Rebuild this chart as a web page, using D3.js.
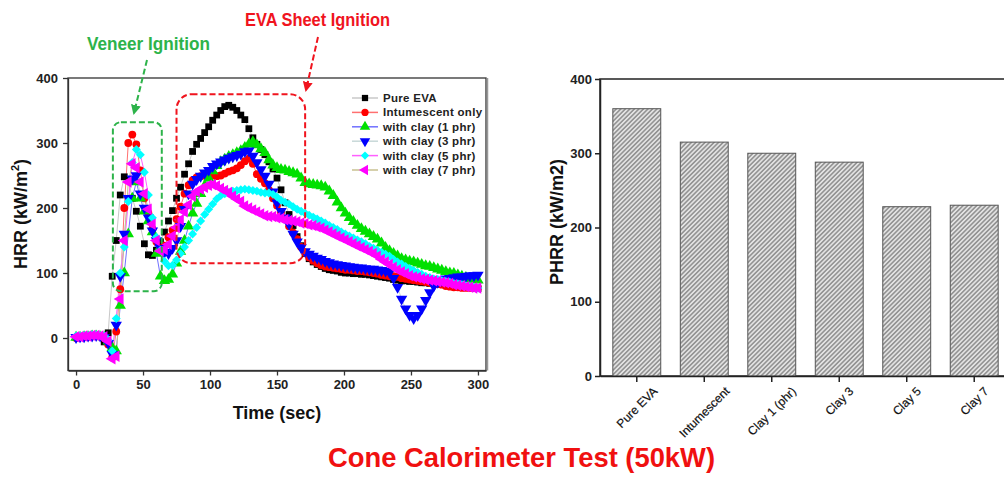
<!DOCTYPE html>
<html>
<head>
<meta charset="utf-8">
<script src="https://cdn.jsdelivr.net/npm/d3@7"></script>
<style>
  body { margin: 0; background: #fff; }
  svg { display: block; }
  text { font-family: "Liberation Sans", Arial, sans-serif; }
</style>
</head>
<body>
<div id="output"></div>
<script>
// sample times (sec), one reading every 3 s
var times = d3.range(0, 301, 3);

// HRR readings (kW/m2)
var pureEVA = [
  1,2,2,3,4,3,2,-6,8,95,
  150,220,248,243,215,195,172,145,128,127,
  135,148,163,180,196,215,232,252,268,287,
  298,307,316,325,335,343,350,356,358,355,
  350,343,336,322,308,298,290,282,271,260,
  246,228,208,190,173,156,142,130,122,117,
  113,110,107,105,104,103,101,100,100,99,
  99,98,98,97,96,95,94,93,92,90,
  89,88,88,87,87,86,85,85,84,84,
  83,83,82,82,81,80,80,79,78,77,
  76];
var intumescent = [
  0,1,2,2,3,4,3,0,-10,-30,
  10,75,200,300,313,298,258,215,192,168,
  148,138,142,155,166,183,202,222,235,243,
  247,249,250,251,250,249,250,253,256,258,
  261,266,272,276,268,252,245,238,228,215,
  204,193,183,172,162,152,140,131,124,119,
  115,112,110,109,108,107,106,105,105,104,
  103,103,102,101,100,99,97,96,95,95,
  94,92,91,90,89,88,87,86,85,84,
  83,82,80,79,78,78,77,77,77,77,
  77];
var clay1 = [
  1,1,2,2,3,3,2,1,-5,-15,
  -20,50,100,160,215,240,215,195,180,163,
  130,95,88,90,98,115,133,150,172,192,
  207,222,234,246,257,265,271,275,279,282,
  285,288,293,298,302,297,291,285,274,266,
  262,259,258,256,254,252,246,239,237,236,
  235,234,232,226,219,209,200,192,185,179,
  173,168,164,160,156,152,146,139,134,130,
  126,122,120,118,117,115,113,111,110,108,
  106,104,102,100,99,97,95,93,91,90,
  89];
var clay3 = [
  1,2,2,3,3,4,3,1,-8,-25,
  20,95,160,215,245,250,222,200,185,165,
  150,138,132,130,138,150,172,198,222,237,
  244,249,254,258,264,268,271,274,277,279,
  281,283,287,288,280,270,259,249,237,225,
  208,195,185,175,160,148,139,133,129,126,
  123,121,118,116,114,113,112,111,110,109,
  108,108,107,106,106,105,104,103,101,92,
  78,60,45,35,30,35,45,58,70,80,
  86,89,91,92,93,94,94,95,96,96,
  97];
var clay5 = [
  3,3,4,4,5,5,4,3,-3,-20,
  30,100,140,210,270,290,282,255,220,185,
  155,135,118,111,112,120,130,140,150,160,
  170,180,190,198,206,214,219,222,224,226,
  227,228,229,228,227,226,224,223,223,221,
  217,212,209,206,202,198,195,192,189,186,
  183,180,177,173,170,167,163,160,157,154,
  151,148,145,141,138,135,132,129,126,121,
  117,114,110,107,104,101,98,95,93,91,
  90,88,87,86,84,83,82,80,79,78,
  77];
var clay7 = [
  2,2,3,3,4,4,3,2,-5,-32,
  -28,60,150,240,268,262,240,222,198,175,
  150,134,136,144,157,170,182,194,205,218,
  225,229,232,235,236,234,230,227,224,218,
  214,210,203,200,197,194,191,188,187,187,
  185,184,182,181,180,179,177,176,174,173,
  171,169,166,163,160,157,154,151,148,145,
  142,139,136,133,130,126,121,117,113,109,
  105,102,99,96,94,93,91,90,89,88,
  87,86,85,84,82,81,80,79,78,77,
  77];

var seriesNames = ['Pure EVA', 'Intumescent only', 'with clay (1 phr)', 'with clay (3 phr)', 'with clay (5 phr)', 'with clay (7 phr)'];
var seriesValues = [pureEVA, intumescent, clay1, clay3, clay5, clay7];
var hrrTicks = [0, 50, 100, 150, 200, 250, 300];
var hrrYTicks = [0, 100, 200, 300, 400];

// peak HRR bar chart
var barCats = ['Pure EVA', 'Intumescent', 'Clay 1 (phr)', 'Clay 3', 'Clay 5', 'Clay 7'];
var barValues = [360, 315, 300, 288, 228, 230];
var phrrTicks = [0, 100, 200, 300, 400];

var width = 1004;
var height = 478;
var font = '"Liberation Sans", Arial, sans-serif';

var svg = d3.select('#output')
  .append('svg')
  .attr('width', width)
  .attr('height', height);

var defs = svg.append('defs');

// hatch fill for the bars
var pat = defs.append('pattern')
  .attr('id', 'hatch')
  .attr('patternUnits', 'userSpaceOnUse')
  .attr('width', 3.2)
  .attr('height', 3.2)
  .attr('patternTransform', 'rotate(45)');
pat.append('rect').attr('width', 3.2).attr('height', 3.2).attr('fill', '#e2e2e2');
pat.append('line').attr('x1', 0.8).attr('y1', 0).attr('x2', 0.8).attr('y2', 3.2)
  .attr('stroke', '#707070').attr('stroke-width', 1.1);

function arrowHead(id, color){
  defs.append('marker')
    .attr('id', id)
    .attr('viewBox', '0 0 10 10')
    .attr('refX', 8).attr('refY', 5)
    .attr('markerWidth', 5).attr('markerHeight', 5)
    .attr('orient', 'auto')
    .append('path')
    .attr('d', 'M0,0 L10,5 L0,10 z')
    .attr('fill', color);
}
arrowHead('arrG', '#2db34a');
arrowHead('arrR', '#f0141e');

// ---------------- left: HRR curves ----------------
var xScale = d3.scaleLinear().domain([-6, 306]).range([68, 486]);
var yScale = d3.scaleLinear().domain([-50, 400]).range([370.5, 78]);

var left = svg.append('g');

left.append('rect')
  .attr('x', xScale.range()[0]).attr('y', yScale.range()[1])
  .attr('width', xScale.range()[1] - xScale.range()[0])
  .attr('height', yScale.range()[0] - yScale.range()[1])
  .attr('fill', 'none').attr('stroke', '#333').attr('stroke-width', 1.3);
// grey shadow on right frame edge
left.append('line')
  .attr('x1', xScale.range()[1] + 1.5).attr('x2', xScale.range()[1] + 1.5)
  .attr('y1', yScale.range()[1]).attr('y2', yScale.range()[0])
  .attr('stroke', '#999').attr('stroke-width', 1.5);

var xAxis = d3.axisBottom(xScale).tickValues(hrrTicks).tickSize(5).tickSizeOuter(0).tickPadding(4);
var yAxis = d3.axisLeft(yScale).tickValues(hrrYTicks).tickSize(5).tickSizeOuter(0).tickPadding(5);

var gx = left.append('g').attr('transform', `translate(0, ${yScale.range()[0]})`).call(xAxis);
var gy = left.append('g').attr('transform', `translate(${xScale.range()[0]}, 0)`).call(yAxis);
[gx, gy].forEach(function(g){
  g.select('.domain').attr('stroke', '#333').attr('stroke-width', 1.3);
  g.selectAll('.tick line').attr('stroke', '#333').attr('stroke-width', 1.3);
  g.selectAll('.tick text').attr('font-family', font).attr('font-size', 13).attr('font-weight', 'bold').attr('fill', '#222');
});

left.append('text')
  .attr('x', xScale(150)).attr('y', 419)
  .attr('text-anchor', 'middle')
  .attr('font-size', 18).attr('font-weight', 'bold').attr('fill', '#111')
  .text('Time (sec)');

var yl = left.append('text')
  .attr('transform', 'translate(27, 214) rotate(-90)')
  .attr('text-anchor', 'middle')
  .attr('font-size', 18).attr('font-weight', 'bold').attr('fill', '#111');
yl.append('tspan').text('HRR (kW/m');
yl.append('tspan').attr('font-size', 11).attr('dy', -8).text('2');
yl.append('tspan').attr('dy', 8).text(')');

var lineColors = ['#c8c8c8', '#ff7070', '#7070ff', '#c8d8d8', '#ff60ff', '#c8c090'];
var markColors = ['#000000', '#ff0000', '#00e000', '#0000ff', '#00ffff', '#ff00ff'];
var markShapes = [
  { type: d3.symbolSquare, size: 46, rot: 0 },
  { type: d3.symbolCircle, size: 48, rot: 0 },
  { type: d3.symbolTriangle, size: 56, rot: 0 },
  { type: d3.symbolTriangle, size: 56, rot: 180 },
  { type: d3.symbolSquare, size: 40, rot: 45 },
  { type: d3.symbolTriangle, size: 56, rot: -90 }
];

var line = d3.line()
  .x((d, i) => xScale(times[i]))
  .y((d) => yScale(d));

var plot = left.append('g');
seriesValues.forEach(function(vals, s){
  plot.append('path')
    .attr('d', line(vals))
    .attr('fill', 'none')
    .attr('stroke', lineColors[s])
    .attr('stroke-width', 1);
});
seriesValues.forEach(function(vals, s){
  var sym = d3.symbol().type(markShapes[s].type).size(markShapes[s].size);
  plot.selectAll('.m' + s)
    .data(vals)
    .enter()
    .append('path')
    .attr('class', 'm' + s)
    .attr('d', sym)
    .attr('transform', (d, i) => `translate(${xScale(times[i])}, ${yScale(d)}) rotate(${markShapes[s].rot})`)
    .attr('fill', markColors[s]);
});

// legend
var legend = left.append('g');
seriesNames.forEach(function(name, s){
  var y = 98 + s * 14.4;
  legend.append('line')
    .attr('x1', 352).attr('x2', 378).attr('y1', y).attr('y2', y)
    .attr('stroke', lineColors[s]).attr('stroke-width', 1.5);
  legend.append('path')
    .attr('d', d3.symbol().type(markShapes[s].type).size(markShapes[s].size * 0.85))
    .attr('transform', `translate(365, ${y}) rotate(${markShapes[s].rot})`)
    .attr('fill', markColors[s]);
  legend.append('text')
    .attr('x', 383).attr('y', y + 4)
    .attr('font-size', 11.5).attr('font-weight', 'bold').attr('fill', '#222')
    .attr('letter-spacing', 0.3)
    .text(name);
});

// annotation boxes (in data units)
var boxes = [
  { t0: 27.5, t1: 64, v0: 72, v1: 332, r: 8, color: '#2db34a' },
  { t0: 75, t1: 171, v0: 115, v1: 375, r: 15, color: '#f0141e' }
];
boxes.forEach(function(b){
  left.append('rect')
    .attr('x', xScale(b.t0)).attr('y', yScale(b.v1))
    .attr('width', xScale(b.t1) - xScale(b.t0))
    .attr('height', yScale(b.v0) - yScale(b.v1))
    .attr('rx', b.r).attr('ry', b.r)
    .attr('fill', 'none').attr('stroke', b.color)
    .attr('stroke-width', 2).attr('stroke-dasharray', '6,3');
});

var arrows = [
  { x1: 147, y1: 60, x2: 134, y2: 113, color: '#2db34a', id: 'arrG' },
  { x1: 318, y1: 37, x2: 306, y2: 90, color: '#f0141e', id: 'arrR' }
];
arrows.forEach(function(a){
  svg.append('line')
    .attr('x1', a.x1).attr('y1', a.y1).attr('x2', a.x2).attr('y2', a.y2)
    .attr('stroke', a.color).attr('stroke-width', 2)
    .attr('stroke-dasharray', '6,3')
    .attr('marker-end', `url(#${a.id})`);
});

var labels = [
  { text: 'Veneer Ignition', x: 148.5, y: 50, w: 123, size: 18, color: '#2db34a' },
  { text: 'EVA Sheet Ignition', x: 317.5, y: 26, w: 145, size: 18, color: '#f0141e' },
  { text: 'Cone Calorimeter Test (50kW)', x: 521.5, y: 467, w: 387, size: 28, color: '#f01010' }
];
labels.forEach(function(l){
  svg.append('text')
    .attr('x', l.x).attr('y', l.y)
    .attr('text-anchor', 'middle')
    .attr('font-family', '"DejaVu Sans Condensed", "DejaVu Sans", sans-serif')
    .attr('font-weight', 'bold')
    .attr('font-size', l.size)
    .attr('fill', l.color)
    .attr('textLength', l.w)
    .attr('lengthAdjust', 'spacingAndGlyphs')
    .text(l.text);
});

// ---------------- right: PHRR bars ----------------
var xBand = d3.scaleBand().domain(barCats).range([600, 1011]).paddingInner(0.29).paddingOuter(0.19);
var yBar = d3.scaleLinear().domain([0, 400]).range([376, 79]);

var right = svg.append('g');

right.append('rect')
  .attr('x', 600).attr('y', yBar(400))
  .attr('width', xBand.range()[1] - 600)
  .attr('height', yBar(0) - yBar(400))
  .attr('fill', 'none').attr('stroke', '#222').attr('stroke-width', 1.5);

right.selectAll('rect.bar')
  .data(barValues)
  .enter()
  .append('rect')
  .attr('class', 'bar')
  .attr('x', (d, i) => xBand(barCats[i]))
  .attr('y', (d) => yBar(d))
  .attr('width', xBand.bandwidth())
  .attr('height', (d) => yBar(0) - yBar(d))
  .attr('fill', 'url(#hatch)')
  .attr('stroke', '#555')
  .attr('stroke-width', 1);

var bxAxis = d3.axisBottom(xBand).tickSize(6).tickSizeOuter(0).tickFormat('');
var byAxis = d3.axisLeft(yBar).tickValues(phrrTicks).tickSize(5).tickSizeOuter(0).tickPadding(3);
var gbx = right.append('g').attr('transform', `translate(0, ${yBar(0)})`).call(bxAxis);
var gby = right.append('g').attr('transform', 'translate(600, 0)').call(byAxis);
[gbx, gby].forEach(function(g){
  g.select('.domain').attr('stroke', '#222').attr('stroke-width', 1.5);
  g.selectAll('.tick line').attr('stroke', '#222').attr('stroke-width', 1.5);
  g.selectAll('.tick text').attr('font-family', font).attr('font-size', 13).attr('font-weight', 'bold').attr('fill', '#222');
});

// rotated category labels, centred under each tick
barCats.forEach(function(c){
  var cx = xBand(c) + xBand.bandwidth() / 2;
  var t = right.append('text')
    .attr('font-size', 12).attr('fill', '#111')
    .attr('stroke', '#111').attr('stroke-width', 0.2)
    .attr('text-anchor', 'end')
    .text(c);
  var len = t.node().getComputedTextLength();
  var x0 = cx + len * 0.354 + 3;
  var y0 = 392;
  t.attr('transform', `translate(${x0}, ${y0}) rotate(-45)`);
});

right.append('text')
  .attr('transform', 'translate(563, 222) rotate(-90)')
  .attr('text-anchor', 'middle')
  .attr('font-size', 18).attr('font-weight', 'bold').attr('fill', '#111')
  .text('PHRR (kW/m2)');
</script>
</body>
</html>
